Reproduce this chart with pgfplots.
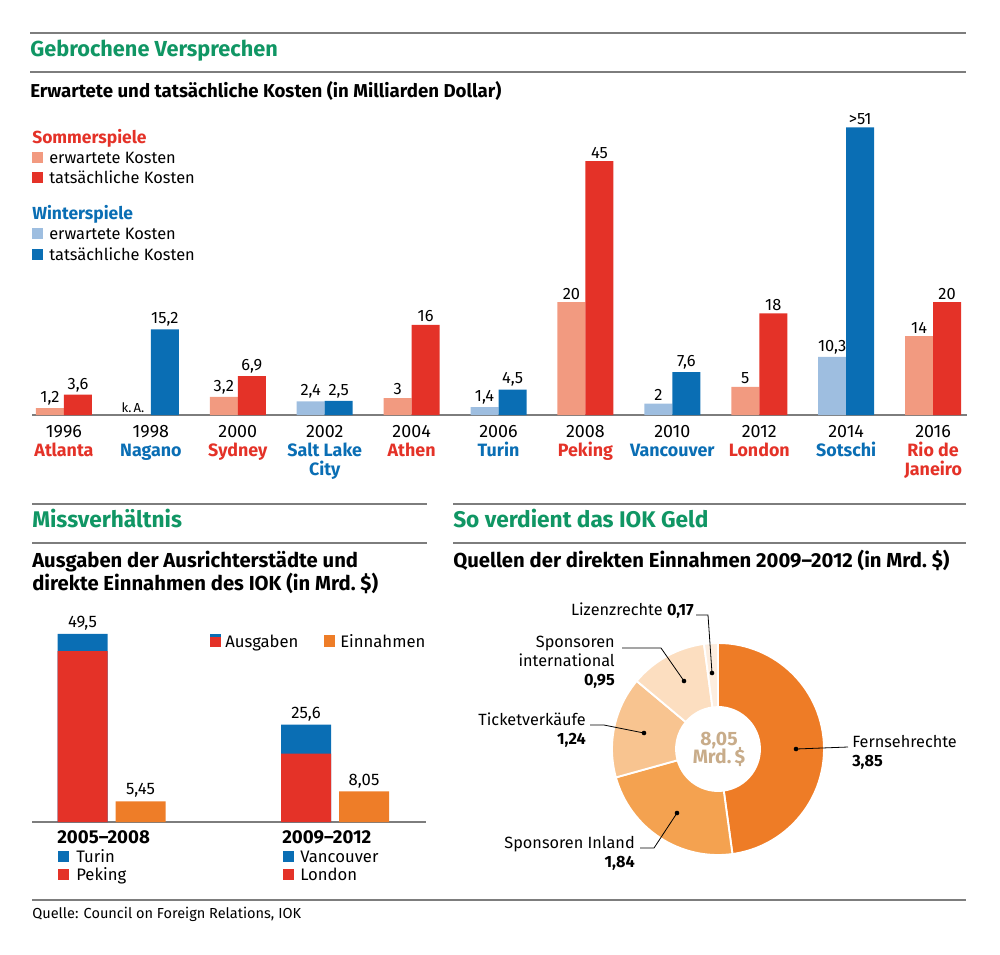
\documentclass[border=0pt]{standalone}
\usepackage{fontspec}
\setmainfont{Fira Sans}
\usepackage{pgfplots}
\pgfplotsset{compat=1.18}

\definecolor{titlegreen}{RGB}{16,150,100}
\definecolor{sred}{RGB}{228,50,40}
\definecolor{slight}{RGB}{242,154,128}
\definecolor{wblue}{RGB}{10,110,180}
\definecolor{wlight}{RGB}{158,190,224}
\definecolor{ioko}{RGB}{238,125,40}
\definecolor{rule}{RGB}{125,125,125}
\definecolor{dA}{RGB}{238,124,38}
\definecolor{dB}{RGB}{244,162,80}
\definecolor{dC}{RGB}{248,196,144}
\definecolor{dD}{RGB}{252,222,192}
\definecolor{dE}{RGB}{253,238,224}
\definecolor{tan}{RGB}{200,172,138}

\newcommand\cityS[1]{\textcolor{sred}{\bfseries #1}}
\newcommand\cityW[1]{\textcolor{wblue}{\bfseries #1}}
\newcommand\ttl[1]{\fontsize{#1}{18}\selectfont\bfseries\color{titlegreen}\ignorespaces}
\newcommand\sub[1]{\fontsize{#1}{17}\selectfont\bfseries\ignorespaces}
\newcommand\lab{\fontsize{12.3}{14}\selectfont}
\newcommand\labb{\fontsize{12.5}{14}\selectfont}
\newcommand\dl{\fontsize{12.2}{14}\selectfont}

% Einnahmen des IOK 2009-2012 (Mrd. $)
\def\vTV{3.85}\def\vSI{1.84}\def\vTK{1.24}\def\vSN{0.95}\def\vLZ{0.17}
\pgfmathsetmacro\aA{90}
\pgfmathsetmacro\aB{\aA-\vTV/8.05*360}
\pgfmathsetmacro\aC{\aB-\vSI/8.05*360}
\pgfmathsetmacro\aD{\aC-\vTK/8.05*360}
\pgfmathsetmacro\aE{\aD-\vSN/8.05*360}
\pgfmathsetmacro\aF{\aE-\vLZ/8.05*360}
\def\ri{0.396}
\newcommand\slice[3]{%
  \fill[#3, draw=white, line width=1.4pt]
    (axis cs:{cos(#1)},{sin(#1)}) arc[start angle=#1, end angle=#2, radius=79.5pt]
    -- (axis cs:{\ri*cos(#2)},{\ri*sin(#2)}) arc[start angle=#2, end angle=#1, radius=31.5pt] -- cycle;}

\begin{document}
\begin{tikzpicture}
\begin{scope}[x=0.75pt,y=-0.75pt]
\path[use as bounding box] (0,0) rectangle (1000,954);

% rules
\draw[rule, line width=1.1pt] (30,33) -- (966,33);
\draw[rule, line width=1.1pt] (30,72) -- (966,72);
\draw[rule, line width=1.1pt] (32,504) -- (427,504);
\draw[rule, line width=1.1pt] (32,543) -- (427,543);
\draw[rule, line width=1.1pt] (453,504) -- (966,504);
\draw[rule, line width=1.1pt] (453,543) -- (966,543);
\draw[rule, line width=1.1pt] (32,900) -- (966,900);

% titles
\node[anchor=base west, inner sep=0pt] at (30,56) {\ttl{16.3}Gebrochene Versprechen};
\node[anchor=base west, inner sep=0pt] at (30,97) {\sub{14}Erwartete und tatsächliche Kosten (in Milliarden Dollar)};
\node[anchor=base west, inner sep=0pt] at (32,527) {\ttl{17}Missverhältnis};
\node[anchor=base west, inner sep=0pt] at (32,567) {\sub{15.2}Ausgaben der Ausrichterstädte und};
\node[anchor=base west, inner sep=0pt] at (32,590) {\sub{15.2}direkte Einnahmen des IOK (in Mrd.\ \$)};
\node[anchor=base west, inner sep=0pt] at (453,527) {\ttl{17}So verdient das IOK Geld};
\node[anchor=base west, inner sep=0pt] at (453,567) {\sub{15.2}Quellen der direkten Einnahmen 2009–2012 (in Mrd.\ \$)};
\node[anchor=base west, inner sep=0pt] at (32,918) {\fontsize{10.9}{12}\selectfont Quelle: Council on Foreign Relations, IOK};

% legend top chart
\node[anchor=base west, inner sep=0pt] at (32,143) {\fontsize{13.1}{14}\selectfont\bfseries\color{sred}Sommerspiele};
\fill[slight] (32,152) rectangle (43,163);
\node[anchor=base west, inner sep=0pt] at (49,163) {\lab erwartete Kosten};
\fill[sred] (32,172) rectangle (43,183);
\node[anchor=base west, inner sep=0pt] at (49,183) {\lab tatsächliche Kosten};
\node[anchor=base west, inner sep=0pt] at (32,219) {\fontsize{13.1}{14}\selectfont\bfseries\color{wblue}Winterspiele};
\fill[wlight] (32,228) rectangle (43,239);
\node[anchor=base west, inner sep=0pt] at (49,239) {\lab erwartete Kosten};
\fill[wblue] (32,249) rectangle (43,260);
\node[anchor=base west, inner sep=0pt] at (49,260) {\lab tatsächliche Kosten};

% legend bottom left
\fill[sred] (210,637) rectangle (221,647);
\fill[wblue] (210,634) rectangle (221,637);
\node[anchor=base west, inner sep=0pt] at (225,647) {\labb Ausgaben};
\fill[ioko] (324,635) rectangle (335,647);
\node[anchor=base west, inner sep=0pt] at (340,647) {\labb Einnahmen};

\node[anchor=base west, inner sep=0pt] at (57,843) {\fontsize{14}{14}\selectfont\bfseries 2005–2008};
\fill[wblue] (58,851) rectangle (69,862);
\node[anchor=base west, inner sep=0pt] at (76,862) {\labb Turin};
\fill[sred] (58,869) rectangle (69,880);
\node[anchor=base west, inner sep=0pt] at (76,880) {\labb Peking};
\node[anchor=base west, inner sep=0pt] at (282,843) {\fontsize{14}{14}\selectfont\bfseries 2009–2012};
\fill[wblue] (283,851) rectangle (294,862);
\node[anchor=base west, inner sep=0pt] at (300,862) {\labb Vancouver};
\fill[sred] (283,869) rectangle (294,880);
\node[anchor=base west, inner sep=0pt] at (300,880) {\labb London};
\end{scope}

% top chart
\begin{axis}[
  at={(24pt,-311.25pt)}, anchor=south west, scale only axis,
  width=701.25pt, height=224.2pt,
  xmin=-0.368, xmax=10.39, ymin=0, ymax=53,
  axis y line=none, axis x line=bottom,
  x axis line style={-, draw=rule, line width=1.1pt},
  xtick={0,...,10}, major tick length=0pt,
  xticklabels={{1996\\\cityS{Atlanta}},{1998\\\cityW{Nagano}},{2000\\\cityS{Sydney}},
    {2002\\\cityW{Salt Lake}\\\cityW{City}},{2004\\\cityS{Athen}},{2006\\\cityW{Turin}},
    {2008\\\cityS{Peking}},{2010\\\cityW{Vancouver}},{2012\\\cityS{London}},
    {2014\\\cityW{Sotschi}},{2016\\\cityS{Rio de}\\\cityS{Janeiro}}},
  xticklabel style={align=center, font=\fontsize{13.4}{14.4}\selectfont, inner sep=0pt, yshift=-7.5pt},
  nodes near coords, point meta=explicit symbolic,
  every node near coord/.append style={font=\fontsize{12.3}{12}\selectfont, text=black, inner sep=2pt},
  clip=false,
]
\addplot[ybar, bar width=21pt, bar shift=-10.5pt, fill=slight, draw=none,
  every node near coord/.append style={xshift=-10.5pt}] table[meta=l] {
x y l
0 1.2 1,2
2 3.2 3,2
4 3 3
6 20 20
8 5 5
10 14 14
};
\addplot[ybar, bar width=21pt, bar shift=10.5pt, fill=sred, draw=none,
  every node near coord/.append style={xshift=10.5pt}] table[meta=l] {
x y l
0 3.6 3,6
2 6.9 6,9
4 16 16
6 45 45
8 18 18
10 20 20
};
\addplot[ybar, bar width=21pt, bar shift=-10.5pt, fill=wlight, draw=none,
  every node near coord/.append style={xshift=-10.5pt}] table[meta=l] {
x y l
3 2.4 2,4
5 1.4 1,4
7 2 2
9 10.3 10,3
};
\addplot[ybar, bar width=21pt, bar shift=10.5pt, fill=wblue, draw=none,
  every node near coord/.append style={xshift=10.5pt}] table[meta=l] {
x y l
1 15.2 15,2
3 2.5 2,5
5 4.5 4,5
7 7.6 7,6
9 51 >51
};
\node[anchor=south, inner sep=1.5pt, font=\fontsize{9.8}{10}\selectfont, xshift=-13.5pt] at (axis cs:1,0) {k.\,A.};
\end{axis}

% bottom left: Ausgaben vs Einnahmen
\begin{axis}[
  at={(24pt,-616.5pt)}, anchor=south west, scale only axis,
  width=295.5pt, height=148.2pt,
  xmin=-0.356, xmax=1.407, ymin=0, ymax=52,
  axis y line=none, axis x line=bottom,
  x axis line style={-, draw=rule, line width=1.1pt},
  xtick=\empty,
  every node near coord/.append style={font=\fontsize{12.5}{12}\selectfont, text=black, inner sep=2.5pt},
  clip=false,
]
\addplot[ybar, bar width=37.5pt, bar shift=-21.75pt, fill=wblue, draw=none,
  nodes near coords, point meta=explicit symbolic,
  every node near coord/.append style={xshift=-21.75pt}] table[meta=l] {
x y l
0 49.5 49,5
1 25.6 25,6
};
\addplot[ybar, bar width=37.5pt, bar shift=-21.75pt, fill=sred, draw=none] coordinates {(0,45) (1,18)};
\addplot[ybar, bar width=37.5pt, bar shift=21.75pt, fill=ioko, draw=none,
  nodes near coords, point meta=explicit symbolic,
  every node near coord/.append style={xshift=21.75pt}] table[meta=l] {
x y l
0 5.45 5,45
1 8.05 8,05
};
\end{axis}

% donut
\begin{axis}[
  at={(538.5pt,-561.75pt)}, anchor=center, scale only axis,
  width=159pt, height=159pt,
  xmin=-1, xmax=1, ymin=-1, ymax=1,
  hide axis, clip=false,
]
\slice{\aA}{\aB}{dA}
\slice{\aB}{\aC}{dB}
\slice{\aC}{\aD}{dC}
\slice{\aD}{\aE}{dD}
\slice{\aE}{\aF}{dE}
\end{axis}

\begin{scope}[x=0.75pt,y=-0.75pt]
\node[anchor=base, inner sep=0pt, text=tan] at (719,745) {\fontsize{14.5}{18}\selectfont\bfseries 8,05};
\node[anchor=base, inner sep=0pt, text=tan] at (719,763) {\fontsize{14.5}{18}\selectfont\bfseries Mrd.\,\$};

% leader lines
\begin{scope}[line width=0.6pt]
\draw (796,749) -- (848,747);
\fill (796,749) circle (2.3);
\draw (677,813) -- (654,848) -- (640,848);
\fill (677,813) circle (2.3);
\draw (644,733) -- (604,725) -- (590,725);
\fill (644,733) circle (2.3);
\draw (684,681) -- (661,648) -- (622,648);
\fill (684,681) circle (2.3);
\draw (712,673) -- (708,615) -- (696,615);
\fill (712,673) circle (2.3);
\end{scope}

\node[anchor=base west, inner sep=0pt] at (852,747) {\dl Fernsehrechte};
\node[anchor=base west, inner sep=0pt] at (852,766) {\dl\bfseries 3,85};
\node[anchor=base east, inner sep=0pt] at (635,848) {\dl Sponsoren Inland};
\node[anchor=base east, inner sep=0pt] at (635,867) {\dl\bfseries 1,84};
\node[anchor=base east, inner sep=0pt] at (586,725) {\dl Ticketverkäufe};
\node[anchor=base east, inner sep=0pt] at (586,744) {\dl\bfseries 1,24};
\node[anchor=base east, inner sep=0pt] at (615,647) {\dl Sponsoren};
\node[anchor=base east, inner sep=0pt] at (615,666) {\dl international};
\node[anchor=base east, inner sep=0pt] at (615,685) {\dl\bfseries 0,95};
\node[anchor=base east, inner sep=0pt] at (694,615) {\dl Lizenzrechte \textbf{0,17}};
\end{scope}

\end{tikzpicture}
\end{document}
